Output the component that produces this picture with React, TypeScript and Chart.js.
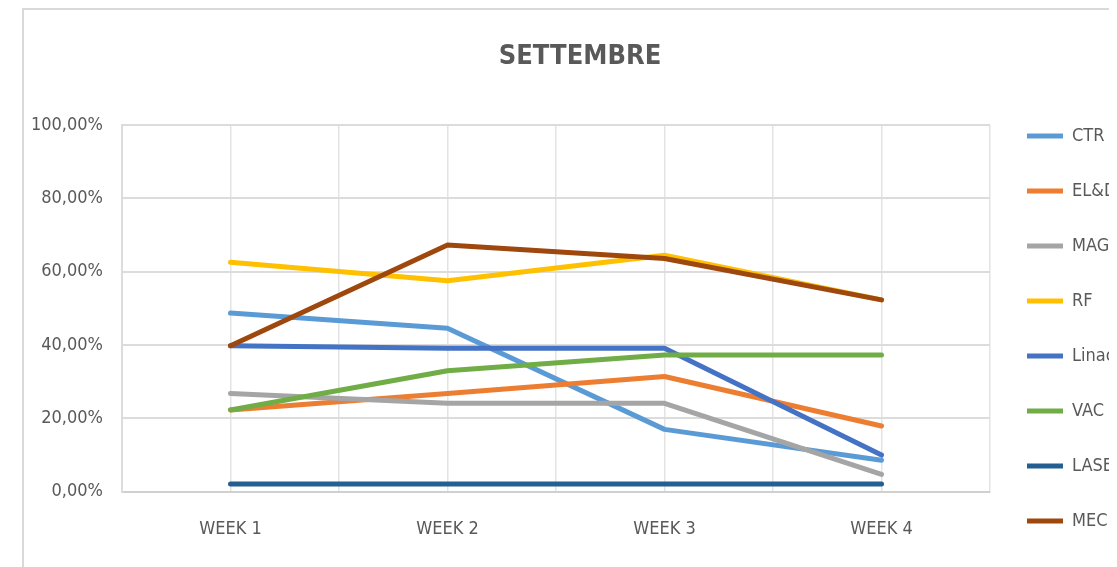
import React, { useEffect, useRef } from "react";
import { Chart, registerables } from "chart.js";

Chart.register(...registerables);

const TITLE = "SETTEMBRE";
const WEEKS = ["WEEK 1", "WEEK 2", "WEEK 3", "WEEK 4"];
const SERIES_NAMES = ["CTR", "EL&DI", "MAG", "RF", "Linac", "VAC", "LASER", "MEC"];
const SERIES_COLORS = ["#5B9BD5", "#ED7D31", "#A5A5A5", "#FFC000", "#4472C4", "#70AD47", "#255E91", "#9E480E"];
const CTR = [48.7, 44.6, 17.0, 8.6];
const ELDI = [22.3, 26.8, 31.4, 17.9];
const MAG = [26.8, 24.1, 24.1, 4.7];
const RF = [62.6, 57.5, 64.5, 52.3];
const LINAC = [39.8, 39.1, 39.1, 10.0];
const VAC = [22.3, 33.0, 37.3, 37.3];
const LASER = [2.1, 2.1, 2.1, 2.1];
const MEC = [39.8, 67.3, 63.6, 52.3];
const SERIES_VALUES = [CTR, ELDI, MAG, RF, LINAC, VAC, LASER, MEC];
const Y_TICKS = [0, 20, 40, 60, 80, 100];

const FONT = '"DejaVu Sans Condensed", "Liberation Sans Narrow", sans-serif';

export default function App() {
  const ref = useRef<HTMLCanvasElement | null>(null);

  useEffect(() => {
    const prevOverflow = document.body.style.overflow;
    document.body.style.overflow = "hidden";
    const canvas = ref.current!;
    const H = 559;
    const legendFont = 18;
    const legendPad = 37;
    const psw = 36;
    const mctx = document.createElement("canvas").getContext("2d")!;
    mctx.font = `${legendFont}px ${FONT}`;
    const maxTW = Math.max(...SERIES_NAMES.map((n) => mctx.measureText(n).width));
    const Lw = legendPad + psw + legendFont + maxTW;
    const plotRight = 983;
    const R = plotRight + Lw;
    const W = Math.ceil(R) + 1;
    const padRight = W - R;
    const titleCenter = 572;
    const padLeft = 2 * titleCenter - R;
    const plotLeft = 114;
    const yW = plotLeft - padLeft;
    const plotBottom = 483.7;
    const xH = H - plotBottom;
    const titleSize = 27;
    const titleLH = titleSize * 1.2;
    const titleTop = 49 - titleLH / 2;
    const titleBottom = 117 - titleTop - titleLH;

    canvas.width = W;
    canvas.height = H;
    canvas.style.width = W + "px";
    canvas.style.height = H + "px";

    const n = SERIES_NAMES.length;
    const chart = new Chart(canvas, {
      type: "line",
      data: {
        datasets: SERIES_NAMES.map((name, i) => ({
          label: name,
          data: SERIES_VALUES[i].map((v, k) => ({ x: k, y: v })),
          borderColor: SERIES_COLORS[i],
          backgroundColor: SERIES_COLORS[i],
          borderWidth: 5,
          pointRadius: 0,
          pointHoverRadius: 0,
          tension: 0,
          fill: false,
          borderJoinStyle: "round",
          borderCapStyle: "round",
          order: n - i,
        })),
      },
      options: {
        responsive: false,
        animation: false,
        devicePixelRatio: 1,
        layout: { padding: { left: padLeft, right: padRight, top: 0, bottom: 0 } },
        plugins: {
          tooltip: { enabled: false },
          title: {
            display: true,
            text: TITLE,
            color: "#595959",
            font: { family: FONT, size: titleSize, weight: "bold", lineHeight: 1.2 },
            padding: { top: titleTop, bottom: titleBottom },
          },
          legend: {
            display: true,
            position: "right",
            align: "end",
            labels: {
              color: "#595959",
              font: { family: FONT, size: legendFont },
              padding: legendPad,
              usePointStyle: true,
              pointStyle: "line",
              pointStyleWidth: psw,
              sort: (a: any, b: any) => a.datasetIndex - b.datasetIndex,
            },
          },
        },
        scales: {
          x: {
            type: "linear",
            min: -0.5,
            max: 3.5,
            afterFit: (s: any) => {
              s.height = xH;
            },
            ticks: {
              stepSize: 0.5,
              autoSkip: false,
              maxRotation: 0,
              padding: 26.5,
              color: "#595959",
              font: { family: FONT, size: 18 },
              callback: (v: any) => {
                const num = Number(v);
                return Number.isInteger(num) && num >= 0 && num < WEEKS.length ? WEEKS[num] : "";
              },
            },
            grid: { color: "#e3e3e3", lineWidth: 1.5, drawTicks: false },
            border: { color: "#d0d0d0", width: 2 },
          },
          y: {
            min: 0,
            max: 100,
            afterFit: (s: any) => {
              s.width = yW;
            },
            afterBuildTicks: (s: any) => {
              s.ticks = Y_TICKS.map((v) => ({ value: v }));
            },
            ticks: {
              padding: 19,
              color: "#595959",
              font: { family: FONT, size: 18 },
              callback: (v: any) => Number(v).toFixed(2).replace(".", ",") + "%",
            },
            grid: { color: "#dcdcdc", lineWidth: 2, drawTicks: false },
            border: { color: "#dcdcdc", width: 2 },
          },
        },
      },
    });
    return () => {
      chart.destroy();
      document.body.style.overflow = prevOverflow;
    };
  }, []);

  return (
    <div style={{ position: "relative", width: 1109, height: 559, overflow: "hidden" }}>
      <div
        style={{
          position: "absolute",
          left: 14,
          top: 0,
          width: 2000,
          height: 2000,
          border: "2px solid #d9d9d9",
        }}
      />
      <canvas ref={ref} style={{ position: "absolute", left: 0, top: 0 }} />
    </div>
  );
}
